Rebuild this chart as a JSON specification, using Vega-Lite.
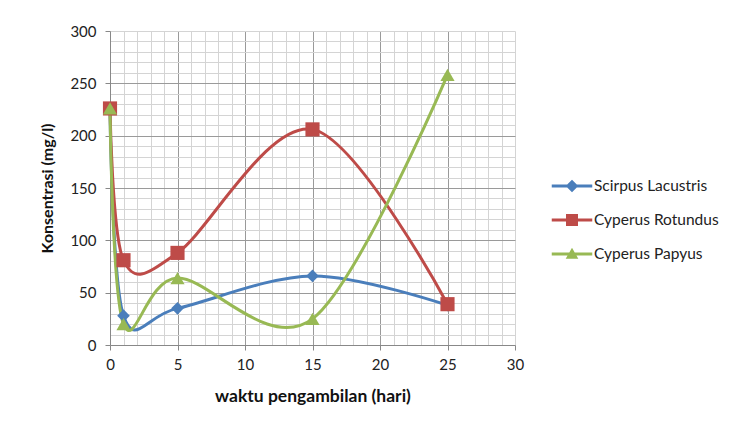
{
  "$schema": "https://vega.github.io/schema/vega-lite/v6.json",
  "width": 405,
  "height": 314,
  "autosize": {"type": "none"},
  "padding": {"left": 110, "top": 31, "right": 224, "bottom": 81},
  "background": "white",
  "config": {
    "font": "Lato",
    "view": {"stroke": null},
    "axis": {
      "labelFontSize": 15,
      "labelColor": "#222",
      "titleFontWeight": "bold",
      "titleColor": "#111",
      "domainColor": "#888",
      "tickColor": "#888",
      "gridOpacity": 1,
      "labelFlush": false
    }
  },
  "data": {
    "values": [
      {"hari": 0, "konsentrasi": 226, "seri": "Scirpus Lacustris"},
      {"hari": 1, "konsentrasi": 28, "seri": "Scirpus Lacustris"},
      {"hari": 5, "konsentrasi": 35, "seri": "Scirpus Lacustris"},
      {"hari": 15, "konsentrasi": 66, "seri": "Scirpus Lacustris"},
      {"hari": 25, "konsentrasi": 38, "seri": "Scirpus Lacustris"},
      {"hari": 0, "konsentrasi": 226, "seri": "Cyperus Rotundus"},
      {"hari": 1, "konsentrasi": 81, "seri": "Cyperus Rotundus"},
      {"hari": 5, "konsentrasi": 88, "seri": "Cyperus Rotundus"},
      {"hari": 15, "konsentrasi": 206, "seri": "Cyperus Rotundus"},
      {"hari": 25, "konsentrasi": 39, "seri": "Cyperus Rotundus"},
      {"hari": 0, "konsentrasi": 226, "seri": "Cyperus Papyus"},
      {"hari": 1, "konsentrasi": 20, "seri": "Cyperus Papyus"},
      {"hari": 5, "konsentrasi": 64, "seri": "Cyperus Papyus"},
      {"hari": 15, "konsentrasi": 25, "seri": "Cyperus Papyus"},
      {"hari": 25, "konsentrasi": 258, "seri": "Cyperus Papyus"}
    ]
  },
  "encoding": {
    "x": {
      "field": "hari",
      "type": "quantitative",
      "scale": {"domain": [0, 30], "nice": false},
      "axis": {
        "title": "waktu pengambilan (hari)",
        "titleFontSize": 17.5,
        "values": [0,1,2,3,4,5,6,7,8,9,10,11,12,13,14,15,16,17,18,19,20,21,22,23,24,25,26,27,28,29,30],
        "labelExpr": "datum.value % 5 === 0 ? datum.label : ''",
        "gridColor": {"condition": {"test": "datum.value % 5 === 0 && datum.value > 0 && datum.value < 30", "value": "#9a9a9a"}, "value": "#d4d4d4"},
        "tickSize": {"condition": {"test": "datum.value % 5 === 0", "value": 5}, "value": 0},
        "labelPadding": 7,
        "titlePadding": 15
      }
    },
    "y": {
      "field": "konsentrasi",
      "type": "quantitative",
      "scale": {"domain": [0, 300], "nice": false},
      "axis": {
        "title": "Konsentrasi (mg/l)",
        "titleFontSize": 16,
        "values": [0,10,20,30,40,50,60,70,80,90,100,110,120,130,140,150,160,170,180,190,200,210,220,230,240,250,260,270,280,290,300],
        "labelExpr": "datum.value % 50 === 0 ? datum.label : ''",
        "gridColor": {"condition": {"test": "datum.value % 50 === 0 && datum.value > 0 && datum.value < 300", "value": "#9a9a9a"}, "value": "#d4d4d4"},
        "tickSize": {"condition": {"test": "datum.value % 50 === 0", "value": 5}, "value": 0},
        "labelPadding": 9,
        "titlePadding": 14
      }
    },
    "color": {
      "field": "seri",
      "type": "nominal",
      "scale": {
        "domain": ["Scirpus Lacustris", "Cyperus Rotundus", "Cyperus Papyus"],
        "range": ["#4A7EBB", "#BE4B48", "#98B954"]
      },
      "legend": {
        "title": null,
        "orient": "none",
        "legendX": 447,
        "legendY": 140,
        "labelFontSize": 15.5,
        "labelColor": "#222",
        "labelOffset": 7,
        "symbolSize": 900,
        "rowPadding": 10,
        "encode": {
          "symbols": {
            "update": {
              "shape": {"signal": "datum.value === 'Scirpus Lacustris' ? 'M-1.35,-0.1H1.35V0.1H-1.35Z M0,-0.42L0.42,0L0,0.42L-0.42,0Z' : datum.value === 'Cyperus Rotundus' ? 'M-1.35,-0.1H1.35V0.1H-1.35Z M-0.4,-0.4H0.4V0.4H-0.4Z' : 'M-1.35,-0.1H1.35V0.1H-1.35Z M0,-0.42L0.42,0.32H-0.42Z'"},
              "fill": {"signal": "scale('color', datum.value)"},
              "strokeWidth": {"value": 0},
              "opacity": {"value": 1}
            }
          }
        }
      }
    }
  },
  "layer": [
    {
      "mark": {"type": "line", "interpolate": "cardinal", "strokeWidth": 3}
    },
    {
      "transform": [{"filter": "datum.seri === 'Scirpus Lacustris'"}],
      "mark": {"type": "point", "shape": "diamond", "filled": true, "size": 160, "opacity": 1}
    },
    {
      "transform": [{"filter": "datum.seri === 'Cyperus Rotundus'"}],
      "mark": {"type": "point", "shape": "square", "filled": true, "size": 200, "opacity": 1}
    },
    {
      "transform": [{"filter": "datum.seri === 'Cyperus Papyus'"}],
      "mark": {"type": "point", "shape": "triangle-up", "filled": true, "size": 200, "opacity": 1}
    }
  ]
}
